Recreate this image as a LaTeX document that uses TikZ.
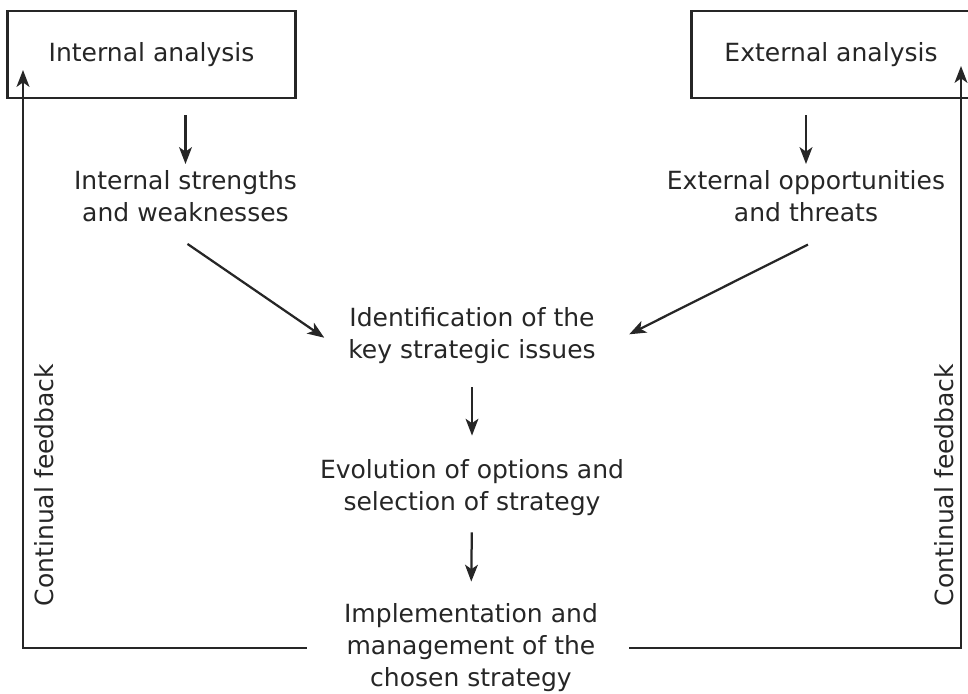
\documentclass[tikz,border=0pt]{standalone}
\usepackage{fontspec}
\setmainfont{DejaVu Sans}
\usetikzlibrary{positioning, arrows.meta}

\begin{document}
\begin{tikzpicture}[
    x=0.025cm, y=-0.025cm,
    every node/.style={text=black!85, font=\fontsize{17.8}{22.8}\selectfont},
    boxnode/.style={rectangle, draw=black!85, line width=2.1pt, minimum height=2.175cm},
    textnode/.style={align=center, inner sep=0pt},
    flow/.style={-{Stealth[length=4.2mm, width=3.2mm, inset=1.1mm]}, line width=1.6pt, draw=black!85},
    feedback/.style={rotate=90, inner sep=0pt}
]
\useasboundingbox (0,0) rectangle (968,693);

\node[boxnode, minimum width=7.175cm](box_int) at (151.5,54.5){Internal analysis};
\node[boxnode, minimum width=6.95cm](box_ext) at (831,54.5){External analysis};

\node[textnode](txt_sw) at (185.5,196){Internal strengths\\and weaknesses};
\node[textnode](txt_ot) at (806,196){External opportunities\\and threats};
\node[textnode](txt_ki) at (472,336){Identification of the\\key strategic issues};
\node[textnode](txt_eo) at (472,488){Evolution of options and\\selection of strategy};
\node[textnode](txt_im) at (471,648){Implementation and\\management of the\\chosen strategy};

\node[feedback](lbl_fb_int) at (44,485){Continual feedback};
\node[feedback](lbl_fb_ext) at (944,485){Continual feedback};

\coordinate (fb_int) at (23,70);
\coordinate (fb_ext) at (961,66);

\draw[flow, shorten <=0.4cm, shorten >=0.15cm] (box_int.south -| txt_sw.north) -- (txt_sw.north);
\draw[flow, shorten <=0.4cm, shorten >=0.15cm] (box_ext.south -| txt_ot.north) -- (txt_ot.north);

\draw[flow, shorten <=0.97cm, shorten >=0.72cm] ([xshift=-0.75cm]txt_sw.south) -- ([yshift=-0.45cm]txt_ki.west);
\draw[flow, shorten <=1.26cm, shorten >=0.93cm] ([xshift=1.175cm]txt_ot.south) -- ([yshift=-0.375cm]txt_ki.east);

\draw[flow, shorten <=0.575cm, shorten >=0.6cm] (txt_ki.south) -- (txt_eo.north);
\draw[flow, shorten <=0.4cm, shorten >=0.55cm] (txt_eo.south) -- (txt_im.north);

\draw[flow, shorten <=0.925cm] (txt_im.west) -| (fb_int);
\draw[flow, shorten <=0.775cm] (txt_im.east) -| (fb_ext);
\end{tikzpicture}
\end{document}
